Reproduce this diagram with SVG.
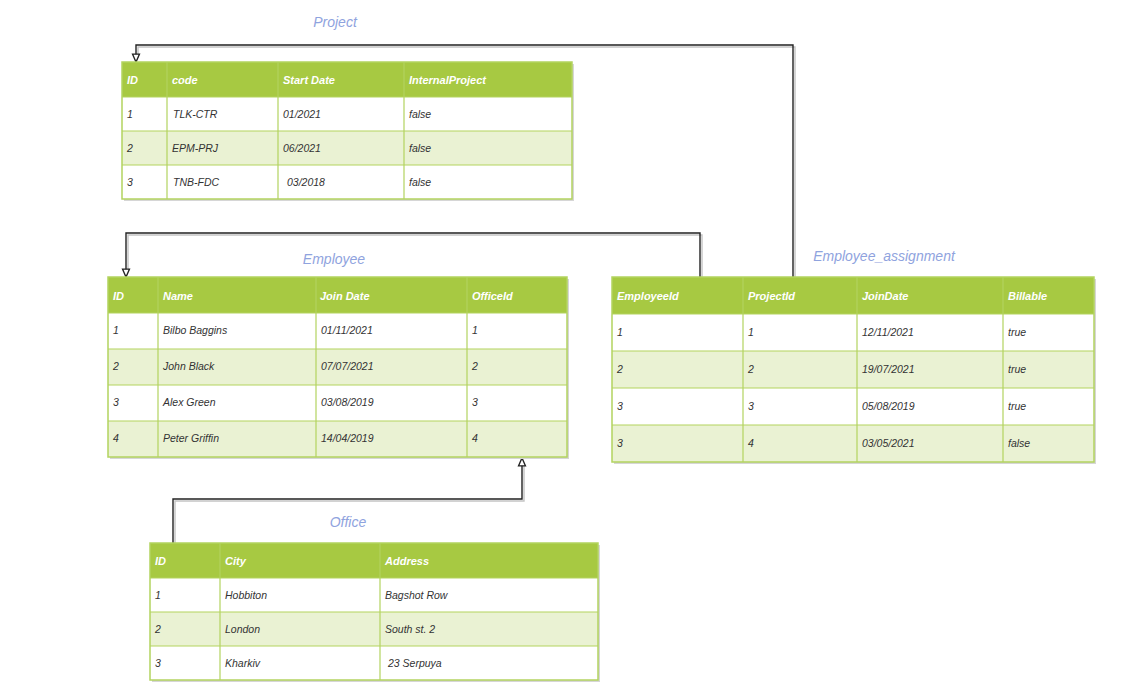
<svg xmlns="http://www.w3.org/2000/svg" width="1127" height="693" viewBox="0 0 1127 693">
  <style>
    .title { font-family: "Liberation Sans", Arial, sans-serif; font-style: italic; font-size: 14px; fill: #8fa3de; }
    .hd { fill: #a7c942; }
    .odd { fill: #ffffff; }
    .even { fill: #eaf2d3; }
    .frame { fill: none; stroke: #b3d35f; stroke-width: 1.5; }
    .sep { stroke: #b3d35f; stroke-width: 1.2; }
    .shadow { fill: #d6d6d6; }
    .th { font-family: "Liberation Sans", Arial, sans-serif; font-style: italic; font-weight: bold; font-size: 11px; fill: #ffffff; }
    .td { font-family: "Liberation Sans", Arial, sans-serif; font-style: italic; font-size: 10.5px; fill: #333333; }
    .wire { fill: none; stroke: #222222; stroke-width: 1.4; }
    .wire-s { fill: none; stroke: #c4c4c4; stroke-width: 1.4; }
  </style>
  <defs>
    <marker id="arrow" viewBox="0 0 10 10" refX="9" refY="5" markerWidth="7" markerHeight="7" orient="auto">
      <path d="M1,1.5 L9,5 L1,8.5 Z" fill="#ffffff" stroke="#222222" stroke-width="1.4"/>
    </marker>
  </defs>

  <rect width="1127" height="693" fill="#ffffff"/>

  <!-- relations between tables -->
  <g id="connectors">
    <!-- Employee_assignment.ProjectId -> Project.ID -->
    <path class="wire-s" d="M795,277 V47 H138 V58"/>
    <path class="wire" d="M793,277 V45 H136 V62" marker-end="url(#arrow)"/>
    <!-- Employee_assignment.EmployeeId -> Employee.ID -->
    <path class="wire-s" d="M702,277 V235 H128 V272"/>
    <path class="wire" d="M700,277 V233 H126 V277" marker-end="url(#arrow)"/>
    <!-- Office.ID -> Employee.OfficeId -->
    <path class="wire-s" d="M175,543 V501 H524 V463"/>
    <path class="wire" d="M173,543 V499 H522 V458" marker-end="url(#arrow)"/>
  </g>

  <!-- Project table -->
  <g id="project">
    <text class="title" x="335" y="27" text-anchor="middle">Project</text>
    <rect class="shadow" x="124" y="64" width="450" height="137"/>
    <rect class="hd" x="122" y="62" width="450" height="35"/>
    <rect class="odd" x="122" y="97" width="450" height="34"/>
    <rect class="even" x="122" y="131" width="450" height="34"/>
    <rect class="odd" x="122" y="165" width="450" height="34"/>
    <line class="sep" x1="122" y1="97" x2="572" y2="97"/>
    <line class="sep" x1="122" y1="131" x2="572" y2="131"/>
    <line class="sep" x1="122" y1="165" x2="572" y2="165"/>
    <line class="sep" x1="167" y1="62" x2="167" y2="199"/>
    <line class="sep" x1="278" y1="62" x2="278" y2="199"/>
    <line class="sep" x1="404" y1="62" x2="404" y2="199"/>
    <rect class="frame" x="122" y="62" width="450" height="137"/>
    <text class="th" x="127" y="84">ID</text>
    <text class="th" x="172" y="84">code</text>
    <text class="th" x="283" y="84">Start Date</text>
    <text class="th" x="409" y="84">InternalProject</text>
    <text class="td" x="127" y="118">1</text>
    <text class="td" x="173" y="118">TLK-CTR</text>
    <text class="td" x="283" y="118">01/2021</text>
    <text class="td" x="409" y="118">false</text>
    <text class="td" x="127" y="152">2</text>
    <text class="td" x="172" y="152">EPM-PRJ</text>
    <text class="td" x="283" y="152">06/2021</text>
    <text class="td" x="409" y="152">false</text>
    <text class="td" x="127" y="186">3</text>
    <text class="td" x="173" y="186">TNB-FDC</text>
    <text class="td" x="287" y="186">03/2018</text>
    <text class="td" x="409" y="186">false</text>
  </g>

  <!-- Employee table -->
  <g id="employee">
    <text class="title" x="334" y="264" text-anchor="middle">Employee</text>
    <rect class="shadow" x="110" y="279" width="459" height="180"/>
    <rect class="hd" x="108" y="277" width="459" height="36"/>
    <rect class="odd" x="108" y="313" width="459" height="36"/>
    <rect class="even" x="108" y="349" width="459" height="36"/>
    <rect class="odd" x="108" y="385" width="459" height="36"/>
    <rect class="even" x="108" y="421" width="459" height="36"/>
    <line class="sep" x1="108" y1="313" x2="567" y2="313"/>
    <line class="sep" x1="108" y1="349" x2="567" y2="349"/>
    <line class="sep" x1="108" y1="385" x2="567" y2="385"/>
    <line class="sep" x1="108" y1="421" x2="567" y2="421"/>
    <line class="sep" x1="158" y1="277" x2="158" y2="457"/>
    <line class="sep" x1="316" y1="277" x2="316" y2="457"/>
    <line class="sep" x1="467" y1="277" x2="467" y2="457"/>
    <rect class="frame" x="108" y="277" width="459" height="180"/>
    <text class="th" x="113" y="300">ID</text>
    <text class="th" x="163" y="300">Name</text>
    <text class="th" x="320" y="300">Join Date</text>
    <text class="th" x="472" y="300">OfficeId</text>
    <text class="td" x="113" y="334">1</text>
    <text class="td" x="163" y="334">Bilbo Baggins</text>
    <text class="td" x="321" y="334">01/11/2021</text>
    <text class="td" x="472" y="334">1</text>
    <text class="td" x="113" y="370">2</text>
    <text class="td" x="163" y="370">John Black</text>
    <text class="td" x="321" y="370">07/07/2021</text>
    <text class="td" x="472" y="370">2</text>
    <text class="td" x="113" y="406">3</text>
    <text class="td" x="163" y="406">Alex Green</text>
    <text class="td" x="321" y="406">03/08/2019</text>
    <text class="td" x="472" y="406">3</text>
    <text class="td" x="113" y="442">4</text>
    <text class="td" x="163" y="442">Peter Griffin</text>
    <text class="td" x="321" y="442">14/04/2019</text>
    <text class="td" x="472" y="442">4</text>
  </g>

  <!-- Employee_assignment table -->
  <g id="employee_assignment">
    <text class="title" x="884" y="261" text-anchor="middle">Employee_assignment</text>
    <rect class="shadow" x="614" y="279" width="482" height="185"/>
    <rect class="hd" x="612" y="277" width="482" height="37"/>
    <rect class="odd" x="612" y="314" width="482" height="37"/>
    <rect class="even" x="612" y="351" width="482" height="37"/>
    <rect class="odd" x="612" y="388" width="482" height="37"/>
    <rect class="even" x="612" y="425" width="482" height="37"/>
    <line class="sep" x1="612" y1="314" x2="1094" y2="314"/>
    <line class="sep" x1="612" y1="351" x2="1094" y2="351"/>
    <line class="sep" x1="612" y1="388" x2="1094" y2="388"/>
    <line class="sep" x1="612" y1="425" x2="1094" y2="425"/>
    <line class="sep" x1="743" y1="277" x2="743" y2="462"/>
    <line class="sep" x1="857" y1="277" x2="857" y2="462"/>
    <line class="sep" x1="1003" y1="277" x2="1003" y2="462"/>
    <rect class="frame" x="612" y="277" width="482" height="185"/>
    <text class="th" x="617" y="300">EmployeeId</text>
    <text class="th" x="748" y="300">ProjectId</text>
    <text class="th" x="862" y="300">JoinDate</text>
    <text class="th" x="1008" y="300">Billable</text>
    <text class="td" x="617" y="336">1</text>
    <text class="td" x="748" y="336">1</text>
    <text class="td" x="862" y="336">12/11/2021</text>
    <text class="td" x="1008" y="336">true</text>
    <text class="td" x="617" y="373">2</text>
    <text class="td" x="748" y="373">2</text>
    <text class="td" x="862" y="373">19/07/2021</text>
    <text class="td" x="1008" y="373">true</text>
    <text class="td" x="617" y="410">3</text>
    <text class="td" x="748" y="410">3</text>
    <text class="td" x="862" y="410">05/08/2019</text>
    <text class="td" x="1008" y="410">true</text>
    <text class="td" x="617" y="447">3</text>
    <text class="td" x="748" y="447">4</text>
    <text class="td" x="862" y="447">03/05/2021</text>
    <text class="td" x="1008" y="447">false</text>
  </g>

  <!-- Office table -->
  <g id="office">
    <text class="title" x="348" y="527" text-anchor="middle">Office</text>
    <rect class="shadow" x="152" y="545" width="448" height="137"/>
    <rect class="hd" x="150" y="543" width="448" height="35"/>
    <rect class="odd" x="150" y="578" width="448" height="34"/>
    <rect class="even" x="150" y="612" width="448" height="34"/>
    <rect class="odd" x="150" y="646" width="448" height="34"/>
    <line class="sep" x1="150" y1="578" x2="598" y2="578"/>
    <line class="sep" x1="150" y1="612" x2="598" y2="612"/>
    <line class="sep" x1="150" y1="646" x2="598" y2="646"/>
    <line class="sep" x1="220" y1="543" x2="220" y2="680"/>
    <line class="sep" x1="380" y1="543" x2="380" y2="680"/>
    <rect class="frame" x="150" y="543" width="448" height="137"/>
    <text class="th" x="155" y="565">ID</text>
    <text class="th" x="225" y="565">City</text>
    <text class="th" x="385" y="565">Address</text>
    <text class="td" x="155" y="599">1</text>
    <text class="td" x="225" y="599">Hobbiton</text>
    <text class="td" x="385" y="599">Bagshot Row</text>
    <text class="td" x="155" y="633">2</text>
    <text class="td" x="225" y="633">London</text>
    <text class="td" x="385" y="633">South st. 2</text>
    <text class="td" x="155" y="667">3</text>
    <text class="td" x="225" y="667">Kharkiv</text>
    <text class="td" x="388" y="667">23 Serpuya</text>
  </g>
</svg>
